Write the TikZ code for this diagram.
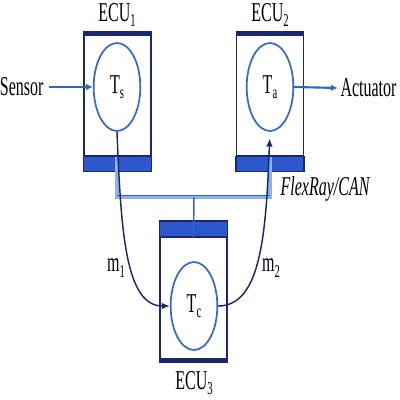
\documentclass[tikz,border=0pt]{standalone}
\usepackage{fontspec}
\setmainfont{Liberation Serif}
\usepackage{graphicx}
\usetikzlibrary{shapes.geometric,arrows.meta}

\definecolor{ecunavy}{RGB}{28,40,110}
\definecolor{bandblue}{RGB}{45,88,205}
\definecolor{taskblue}{RGB}{55,105,200}
\definecolor{arrowblue}{RGB}{40,105,195}
\definecolor{buslight}{RGB}{140,180,235}
\definecolor{busdark}{RGB}{50,100,185}

\newcommand{\tall}[1]{\scalebox{1}[1.7]{#1}}
\newcommand{\lowsub}[1]{\raisebox{-0.45ex}{\fontsize{8}{8}\selectfont #1}}

\tikzset{every picture/.style={line width=0.75pt},
  ecubox/.style={draw=ecunavy, line width=1.1pt, fill=white, minimum width=50pt, minimum height=90.75pt, inner sep=0pt},
  task/.style={ellipse, draw=taskblue, line width=1.3pt, minimum width=35pt, minimum height=66pt, inner sep=0pt, font=\fontsize{12}{14}\selectfont},
  lbl/.style={inner sep=0.75pt, font=\fontsize{12}{14}\selectfont},
  io/.style={arrowblue, line width=1.6pt, -{Latex[length=5pt,width=5pt]}},
  msg/.style={ecunavy, line width=1.1pt, -{Latex[length=6pt,width=5pt]}},
  bus/.style={buslight, line width=3pt},
}

\begin{document}
\begin{tikzpicture}[x=0.75pt,y=0.75pt,yscale=-1,xscale=1]
    \useasboundingbox (0,0) rectangle (400,400);

    %Shape: ECU boxes
    \node[ecubox] (ecu1) at (117.5,95.5) {};
    \node[ecubox] (ecu2) at (270,95.5) {};
    \node[ecubox] (ecu3) at (193.5,298) {};

    %Shape: bands of the boxes
    \fill[ecunavy] (ecu1.north west) rectangle ([yshift=-2.5pt]ecu1.north east);
    \draw[ecunavy, fill=bandblue, line width=1.1pt] (ecu1.south west) rectangle ([yshift=11pt]ecu1.south east);
    \fill[ecunavy] (ecu2.north west) rectangle ([yshift=-2.5pt]ecu2.north east);
    \draw[ecunavy, fill=bandblue, line width=1.1pt] (ecu2.south west) rectangle ([yshift=11pt]ecu2.south east);
    \draw[ecunavy, fill=bandblue, line width=1.1pt] (ecu3.north west) rectangle ([yshift=-12pt]ecu3.north east);
    \fill[ecunavy] (ecu3.south west) rectangle ([yshift=2.5pt]ecu3.south east);

    %Shape: tasks
    \node[task] (ts) at (117,87) {\tall{T\lowsub{s}}};
    \node[task] (ta) at (270,87) {\tall{T\lowsub{a}}};
    \node[task] (tc) at (194,306) {\tall{T\lowsub{c}}};

    %Straight Lines: bus
    \coordinate (busl) at (117,197);
    \coordinate (busr) at (270,197);
    \coordinate (bustap) at (194,197);
    \draw[bus] (ecu1.south -| ts) -- (busl) -- (busr) -- (ecu2.south -| ta);
    \draw[busdark, line width=0.8pt] ([yshift=-1pt]busl) -- ([yshift=-1pt]busr);
    \draw[busdark, line width=1.1pt] (bustap) -- (ecu3.north);

    % Text Node
    \node[lbl] (ecu1lbl) at (117,15) {\tall{ECU\lowsub{1}}};
    % Text Node
    \node[lbl] (ecu2lbl) at (270,15) {\tall{ECU\lowsub{2}}};
    % Text Node
    \node[lbl] (ecu3lbl) at (194,383) {\tall{ECU\lowsub{3}}};
    % Text Node
    \node[lbl, anchor=east] (sensor) at (45,87) {\tall{Sensor}};
    % Text Node
    \node[lbl, anchor=west] (actuator) at (339,88) {\tall{Actuator}};
    % Text Node
    \node[lbl] (buslbl) at (325,189) {\tall{\itshape FlexRay/CAN}};
    % Text Node
    \node[lbl] (m1) at (116,268) {\tall{m\lowsub{1}}};
    % Text Node
    \node[lbl] (m2) at (271,268) {\tall{m\lowsub{2}}};

    %Straight Lines: sensor and actuator
    \draw[io, shorten <=3pt] (sensor.east) -- (ts.west);
    \draw[io, shorten >=1pt] (ta.east) -- (actuator.west);

    %Curve Lines: messages
    \draw[msg] (ts.south) .. controls (121,230) and (125,306) .. (tc.west);
    \draw[msg, shorten >=5pt] (tc.east) .. controls (262,306) and (266,230) .. (ta.south);

\end{tikzpicture}
\end{document}
